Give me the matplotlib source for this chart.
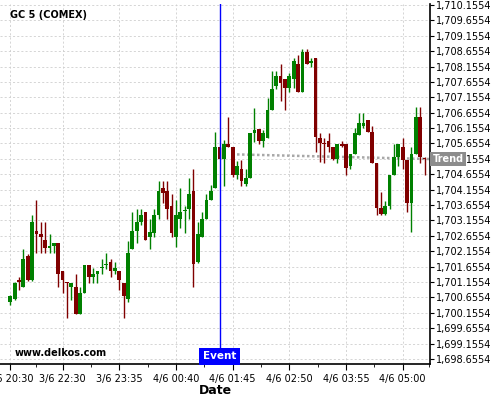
import matplotlib
matplotlib.use("Agg")
import matplotlib.pyplot as plt
import numpy as np

opens = [1700.52, 1700.60, 1701.22, 1701.00, 1702.00, 1701.22, 1702.81, 1702.71, 1702.52, 1702.25,
         1702.33, 1702.42, 1701.51, 1701.16, 1701.00, 1701.00, 1700.12, 1700.81, 1701.71, 1701.33,
         1701.42, 1701.62, 1701.71, 1701.80, 1701.52, 1701.51, 1701.11, 1700.60, 1702.24, 1702.81,
         1703.10, 1703.42, 1702.63, 1702.74, 1703.33, 1704.21, 1704.11, 1703.62, 1702.63, 1703.21,
         1703.45, 1703.53, 1704.11, 1701.81, 1702.63, 1703.21, 1703.82, 1704.21, 1705.53, 1705.14,
         1705.63, 1705.53, 1704.63, 1704.82, 1704.33, 1704.54, 1706.01, 1706.12, 1705.75, 1705.84,
         1706.74, 1707.52, 1707.85, 1707.75, 1707.45, 1707.74, 1708.23, 1707.34, 1708.62, 1708.26,
         1708.42, 1705.82, 1705.66, 1705.74, 1705.55, 1705.14, 1705.64, 1705.64, 1704.93, 1705.30,
         1705.93, 1706.22, 1706.42, 1706.03, 1705.03, 1703.55, 1703.35, 1703.62, 1704.63, 1705.23,
         1705.55, 1705.12, 1703.73, 1705.31, 1706.51, 1705.17]
highs = [1700.73, 1701.15, 1701.31, 1702.23, 1702.07, 1703.33, 1703.82, 1703.10, 1703.10, 1702.71,
         1702.42, 1702.42, 1701.51, 1701.16, 1701.12, 1701.41, 1701.00, 1701.71, 1701.71, 1701.60,
         1701.51, 1701.89, 1702.09, 1701.89, 1701.80, 1701.51, 1701.11, 1702.50, 1703.42, 1703.53,
         1703.53, 1703.42, 1703.19, 1703.52, 1704.44, 1704.44, 1704.44, 1704.01, 1703.82, 1704.20,
         1703.62, 1704.53, 1704.82, 1703.09, 1703.43, 1704.01, 1704.31, 1706.02, 1705.53, 1705.77,
         1706.51, 1705.53, 1705.10, 1705.12, 1704.82, 1706.01, 1706.82, 1706.12, 1706.09, 1707.12,
         1708.02, 1708.02, 1708.23, 1707.75, 1707.94, 1708.42, 1708.53, 1708.72, 1708.72, 1708.42,
         1708.42, 1706.01, 1705.82, 1706.01, 1705.55, 1705.64, 1705.74, 1705.64, 1705.30, 1706.15,
         1706.64, 1706.64, 1706.42, 1706.22, 1705.03, 1704.09, 1703.79, 1704.63, 1705.63, 1705.63,
         1705.82, 1705.12, 1705.53, 1706.83, 1706.83, 1705.23]
lows = [1700.41, 1700.57, 1700.89, 1701.00, 1701.19, 1701.19, 1702.10, 1702.10, 1702.10, 1702.10,
        1702.10, 1700.98, 1700.79, 1699.98, 1700.57, 1700.12, 1700.12, 1700.81, 1701.11, 1701.11,
        1701.11, 1701.42, 1701.57, 1701.31, 1701.42, 1700.90, 1699.98, 1700.50, 1702.24, 1702.41,
        1703.01, 1702.52, 1702.23, 1702.63, 1703.19, 1703.73, 1703.19, 1702.63, 1702.30, 1702.90,
        1702.74, 1703.21, 1701.00, 1701.78, 1702.63, 1703.21, 1703.82, 1704.21, 1705.14, 1704.28,
        1705.53, 1704.56, 1704.49, 1704.28, 1704.28, 1704.54, 1705.71, 1705.63, 1705.53, 1705.84,
        1706.74, 1707.43, 1707.04, 1706.74, 1707.32, 1707.45, 1707.32, 1707.34, 1708.24, 1708.13,
        1705.39, 1705.06, 1705.01, 1705.39, 1705.12, 1705.01, 1705.53, 1704.63, 1704.83, 1705.30,
        1705.93, 1706.15, 1706.03, 1705.01, 1703.33, 1703.33, 1703.33, 1703.52, 1704.63, 1704.92,
        1704.83, 1703.42, 1702.79, 1705.31, 1705.01, 1704.63]
closes = [1700.70, 1701.13, 1701.15, 1701.90, 1701.22, 1703.10, 1702.71, 1702.63, 1702.25, 1702.33,
          1702.42, 1701.42, 1701.23, 1701.13, 1701.12, 1700.12, 1700.81, 1701.71, 1701.33, 1701.42,
          1701.51, 1701.65, 1701.74, 1701.52, 1701.61, 1701.23, 1700.71, 1702.10, 1702.81, 1703.10,
          1703.33, 1702.52, 1702.79, 1703.33, 1704.11, 1704.04, 1703.54, 1702.74, 1703.33, 1703.43,
          1703.47, 1704.01, 1701.73, 1702.71, 1703.21, 1703.82, 1704.12, 1705.53, 1705.14, 1705.63,
          1705.53, 1704.63, 1704.92, 1704.45, 1704.54, 1706.01, 1706.09, 1705.75, 1706.01, 1706.74,
          1707.42, 1707.85, 1707.63, 1707.45, 1707.85, 1708.34, 1707.34, 1708.62, 1708.24, 1708.34,
          1705.86, 1705.66, 1705.64, 1705.55, 1705.14, 1705.64, 1705.57, 1704.85, 1705.30, 1706.01,
          1706.31, 1706.31, 1706.03, 1705.03, 1703.55, 1703.35, 1703.62, 1704.63, 1705.23, 1705.63,
          1705.12, 1703.73, 1705.31, 1706.51, 1705.23, 1705.14]

tick_idx = [0, 12, 25, 38, 51, 64, 77, 90]
tick_labels = ["3/6 20:30", "3/6 22:30", "3/6 23:35", "4/6 00:40", "4/6 01:45",
               "4/6 02:50", "4/6 03:55", "4/6 05:00"]
y_ticks = [1698.6554 + 0.5 * k for k in range(24)]
event_idx = 48
trend_x = [52, 96.3]
trend_y = [1705.30, 1705.15]

UP = "#008000"
DOWN = "#800000"
YMIN, YMAX = 1698.491, 1710.187

fig = plt.figure(figsize=(5, 4), dpi=100)
ax = fig.add_axes([0.0, 0.09, 0.86, 0.90])

x = np.arange(len(opens))
o = np.array(opens); c = np.array(closes); h = np.array(highs); l = np.array(lows)
cols = np.where(c >= o, UP, DOWN)

ax.vlines(x, l, h, colors=cols, linewidth=1.0, zorder=3)
bottom = np.minimum(o, c)
height = np.maximum(np.abs(c - o), 0.03)
ax.bar(x, height, bottom=bottom, width=0.86, color=cols, edgecolor=cols, linewidth=0, zorder=4)

ax.set_xlim(-2.36, 96.26)
ax.set_ylim(YMIN, YMAX)

ax.yaxis.tick_right()
ax.set_yticks(y_ticks)
ax.set_yticklabels([f"{v:,.4f}" for v in y_ticks], fontsize=7)
ax.set_xticks(tick_idx)
ax.set_xticklabels(tick_labels, fontsize=7)
ax.set_xticks([(tick_idx[i] + tick_idx[i + 1]) / 2 for i in range(len(tick_idx) - 1)] + [96], minor=True)
ax.tick_params(axis="y", which="major", length=3, pad=1, direction="out")
ax.tick_params(axis="x", which="major", length=4, pad=3)
ax.tick_params(axis="x", which="minor", length=2)

ax.grid(True, which="major", color="#cfcfcf", linestyle=(0, (2.5, 2.5)), linewidth=0.6, zorder=0)
for s in ["left", "top"]:
    ax.spines[s].set_visible(False)
for s in ["right", "bottom"]:
    ax.spines[s].set_linewidth(1.2)
    ax.spines[s].set_color("black")

ax.set_xlabel("Date", fontsize=9, fontweight="bold", labelpad=0)

# event line
ax.axvline(event_idx, color="#0000ff", linewidth=1.0, zorder=5)
ax.text(event_idx, YMIN + 0.245, "Event", ha="center", va="center", fontsize=7.5,
        fontweight="bold", color="white", zorder=6,
        bbox=dict(boxstyle="square,pad=0.35", facecolor="#0000ff", edgecolor="none"))

# trend line
ax.plot(trend_x, trend_y, color="#a8a8a8", linestyle=(0, (1, 1)), linewidth=1.8, zorder=2)
ax.text(96.26 + 0.55, trend_y[-1], "Trend", ha="left", va="center", fontsize=7,
        fontweight="bold", color="white", zorder=10, clip_on=False,
        bbox=dict(boxstyle="square,pad=0.25", facecolor="#8c8c8c", edgecolor="none"))

fig.text(10 / 500, 1 - 15 / 400, "GC 5 (COMEX)", fontsize=7, fontweight="bold",
         ha="left", va="center")
ax.text(0.035, 0.031, "www.delkos.com", transform=ax.transAxes, fontsize=7,
        fontweight="bold", ha="left", va="center")

fig.savefig("out.png", dpi=100)
